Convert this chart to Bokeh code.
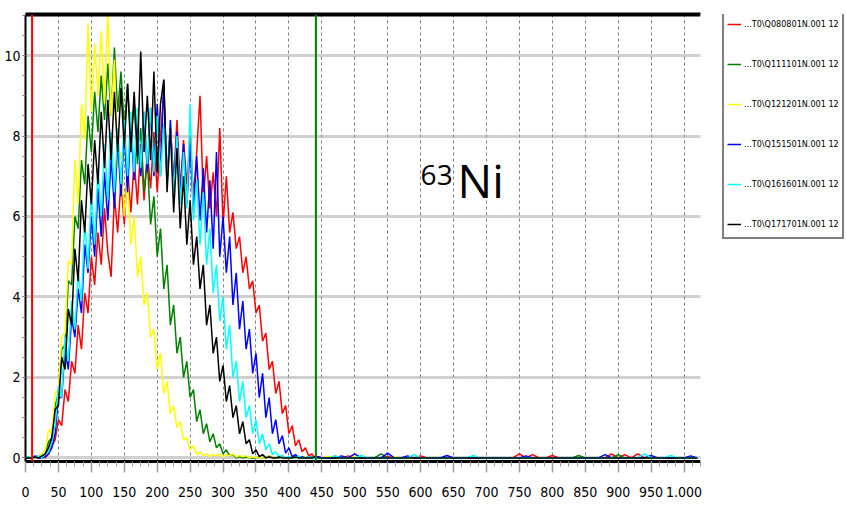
from bokeh.plotting import figure
from bokeh.models import (Range1d, FixedTicker, LinearAxis, Legend, LegendItem, Span, Label,
                          BoxAnnotation)
from bokeh.embed import file_html
from bokeh.resources import INLINE

# ---------------- data ----------------
channels_main = list(range(0, 451, 5))      # channel numbers 0..450
channels_tail = list(range(460, 1021, 10))  # channel numbers 460..1020

legend_labels = [
    "...T0\\Q080801N.001 12",
    "...T0\\Q111101N.001 12",
    "...T0\\Q121201N.001 12",
    "...T0\\Q151501N.001 12",
    "...T0\\Q161601N.001 12",
    "...T0\\Q171701N.001 12",
]
series_colors = ["#ff0000", "#008000", "#ffff00", "#0000ff", "#00ffff", "#000000"]

red_main = [0, 0, 0.05, 0, 0, 0.05, 0, 0.1, 0.3, 0.45,
            0.95, 0.8, 1.7, 1.4, 2.4, 2.1, 3.3, 2.7, 4.1, 3.6,
            5.0, 4.3, 5.6, 4.8, 6.2, 5.1, 4.5, 6.5, 5.6, 6.9,
            5.8, 7.2, 6.1, 7.4, 6.3, 7.8, 6.4, 7.6, 6.7, 8.1,
            6.6, 8.0, 9.1, 6.9, 8.2, 6.9, 8.4, 6.7, 7.9, 6.8,
            8.0, 6.5, 7.6, 9.0, 6.4, 7.5, 6.2, 7.1, 6.0, 8.2,
            5.8, 7.0, 5.6, 6.1, 5.2, 5.5, 4.6, 5.0, 4.2, 4.4,
            3.6, 3.8, 2.9, 3.1, 2.2, 2.4, 1.6, 1.9, 1.1, 1.3,
            0.6, 0.8, 0.3, 0.45, 0.15, 0.25, 0.05, 0.1, 0, 0.03,
            0]
green_main = [0, 0.03, 0, 0, 0.05, 0, 0.1, 0.4, 0.5, 1.3,
              1.6, 2.7, 2.8, 4.4, 4.3, 6.0, 5.7, 7.4, 6.8, 8.5,
              7.6, 9.1, 8.1, 9.5, 8.4, 9.8, 8.5, 10.2, 8.6, 9.6,
              8.2, 9.3, 7.9, 8.8, 7.3, 8.2, 6.6, 7.4, 5.8, 6.5,
              5.0, 5.7, 4.2, 4.8, 3.3, 3.8, 2.6, 3.0, 2.0, 2.4,
              1.5, 1.7, 0.9, 1.2, 0.6, 0.85, 0.4, 0.6, 0.25, 0.35,
              0.1, 0.2, 0.05, 0.08, 0, 0.03, 0, 0.02, 0, 0,
              0, 0.02, 0, 0, 0.05, 0, 0, 0, 0.02, 0,
              0, 0, 0.03, 0, 0, 0, 0, 0.02, 0, 0,
              0]
yellow_main = [0, 0, 0.05, 0, 0.03, 0.1, 0.2, 0.7, 0.6, 1.6,
               1.7, 3.0, 3.1, 4.9, 4.8, 7.4, 6.3, 8.8, 7.9, 10.8,
               8.6, 10.3, 9.0, 10.6, 8.8, 11.1, 8.5, 9.9, 7.2, 7.6,
               6.0, 6.9, 5.3, 6.0, 4.5, 5.0, 3.8, 4.1, 3.0, 3.2,
               2.2, 2.6, 1.6, 1.9, 1.1, 1.3, 0.75, 0.9, 0.45, 0.5,
               0.2, 0.3, 0.08, 0.15, 0.05, 0.1, 0.03, 0.08, 0.05, 0.1,
               0.03, 0.08, 0.05, 0.1, 0.02, 0.06, 0.03, 0.05, 0, 0.02,
               0, 0.03, 0, 0, 0.05, 0, 0, 0.02, 0, 0,
               0, 0, 0.02, 0, 0, 0.03, 0, 0, 0, 0,
               0]
blue_main = [0, 0, 0, 0.05, 0, 0, 0.03, 0.1, 0.25, 0.6,
             1.5, 1.5, 2.7, 2.2, 3.5, 3.0, 4.2, 3.6, 5.3, 4.6,
             6.0, 5.0, 6.7, 5.5, 7.1, 5.9, 7.5, 6.2, 7.9, 6.5,
             8.1, 6.6, 8.3, 6.9, 8.5, 7.0, 8.6, 7.1, 8.7, 7.0,
             8.8, 7.0, 9.4, 6.8, 8.4, 6.7, 8.1, 6.5, 7.8, 6.3,
             7.8, 6.1, 7.5, 5.9, 7.2, 5.6, 6.9, 5.2, 7.6, 5.0,
             6.0, 4.6, 5.5, 3.8, 4.6, 3.2, 3.9, 2.7, 3.2, 2.1,
             2.6, 1.5, 2.1, 1.0, 1.5, 0.6, 0.95, 0.35, 0.55, 0.12,
             0.25, 0.03, 0.08, 0, 0.03, 0, 0.02, 0, 0, 0.03,
             0]
cyan_main = [0, 0.03, 0, 0, 0.05, 0, 0.1, 0.15, 0.4, 0.8,
             1.8, 1.5, 3.0, 2.4, 3.9, 3.2, 4.6, 3.9, 5.9, 4.7,
             6.6, 5.3, 7.2, 6.0, 7.8, 6.4, 8.1, 6.6, 8.2, 6.8,
             8.4, 7.0, 8.6, 7.1, 8.7, 7.2, 8.6, 7.3, 8.7, 7.1,
             8.5, 7.0, 8.3, 6.8, 8.2, 6.6, 8.0, 6.3, 7.6, 6.2,
             8.8, 5.9, 6.9, 5.3, 6.6, 4.8, 5.7, 4.1, 4.8, 3.4,
             4.0, 2.7, 3.3, 2.0, 2.4, 1.4, 1.9, 1.0, 1.3, 0.6,
             0.95, 0.35, 0.6, 0.2, 0.35, 0.08, 0.15, 0.03, 0.06, 0,
             0.03, 0, 0, 0.04, 0, 0, 0.02, 0, 0, 0,
             0]
black_main = [0, 0, 0, 0.02, 0, 0.05, 0.1, 0.25, 0.5, 1.2,
              1.3, 2.5, 2.2, 3.7, 3.3, 5.2, 4.4, 6.4, 5.6, 7.3,
              6.3, 7.9, 6.8, 8.6, 7.2, 8.9, 7.4, 9.1, 7.6, 9.2,
              7.7, 9.3, 7.6, 9.1, 7.5, 10.1, 7.6, 9.0, 7.4, 9.6,
              7.1, 8.8, 9.4, 6.6, 8.2, 6.1, 7.7, 5.7, 7.0, 5.3,
              6.4, 4.8, 5.5, 4.2, 4.8, 3.3, 3.8, 2.6, 3.0, 1.9,
              2.3, 1.4, 1.8, 1.0, 1.3, 0.6, 0.9, 0.35, 0.45, 0.1,
              0.2, 0.03, 0.08, 0, 0.03, 0, 0, 0.02, 0, 0,
              0, 0, 0.02, 0, 0, 0, 0, 0, 0.03, 0,
              0]

red_tail = [0, 0, 0, 0.05, 0, 0, 0, 0, 0, 0.04,
            0, 0, 0, 0, 0.05, 0, 0, 0, 0, 0,
            0, 0, 0, 0, 0, 0, 0, 0, 0, 0.1,
            0, 0.08, 0, 0, 0.06, 0, 0, 0, 0, 0,
            0, 0, 0, 0.1, 0, 0.08, 0, 0.1, 0, 0,
            0, 0, 0, 0, 0, 0, 0]
green_tail = [0, 0.04, 0, 0, 0, 0, 0, 0, 0.1, 0,
              0, 0, 0, 0, 0, 0, 0, 0, 0, 0,
              0, 0, 0, 0, 0, 0, 0, 0, 0, 0,
              0, 0, 0, 0, 0, 0, 0, 0, 0.06, 0,
              0, 0, 0, 0, 0.08, 0, 0, 0, 0, 0,
              0, 0, 0, 0, 0, 0, 0]
yellow_tail = [0.04, 0, 0, 0, 0.05, 0, 0, 0, 0, 0,
               0.03, 0, 0, 0, 0, 0, 0, 0, 0, 0,
               0, 0, 0, 0, 0, 0, 0, 0, 0, 0,
               0, 0, 0, 0, 0, 0, 0, 0, 0, 0,
               0, 0, 0, 0, 0, 0, 0, 0, 0, 0,
               0, 0, 0, 0, 0, 0, 0]
blue_tail = [0, 0, 0.05, 0, 0.1, 0, 0, 0, 0, 0.12,
             0, 0, 0.05, 0, 0, 0, 0, 0, 0.06, 0,
             0, 0, 0, 0, 0, 0, 0, 0, 0, 0,
             0.05, 0, 0, 0, 0, 0, 0, 0, 0, 0,
             0, 0, 0.08, 0, 0, 0, 0, 0, 0, 0.06,
             0, 0, 0, 0, 0, 0.05, 0]
cyan_tail = [0, 0.05, 0, 0, 0, 0.06, 0, 0, 0, 0,
             0, 0, 0, 0.08, 0, 0, 0, 0, 0, 0,
             0, 0, 0.06, 0, 0, 0, 0, 0, 0, 0,
             0, 0, 0, 0, 0, 0, 0, 0, 0, 0,
             0, 0, 0, 0, 0, 0, 0, 0, 0.1, 0,
             0, 0, 0.06, 0, 0, 0, 0]
black_tail = [0, 0, 0, 0, 0, 0, 0, 0, 0, 0,
              0, 0, 0, 0, 0, 0, 0, 0, 0, 0,
              0, 0, 0, 0, 0, 0, 0, 0, 0, 0,
              0, 0, 0, 0, 0, 0, 0, 0, 0, 0,
              0, 0, 0, 0, 0, 0, 0, 0, 0, 0,
              0, 0, 0, 0, 0, 0, 0]

roi_bounds = [10, 441]
x_major_ticks = [0, 50, 100, 150, 200, 250, 300, 350, 400, 450, 500,
                 550, 600, 650, 700, 750, 800, 850, 900, 950, 1000]
x_tick_labels = ["0", "50", "100", "150", "200", "250", "300", "350", "400", "450", "500",
                 "550", "600", "650", "700", "750", "800", "850", "900", "950", "1.000"]
y_major_ticks = [0, 2, 4, 6, 8, 10]
y_tick_labels = ["0", "2", "4", "6", "8", "10"]
isotope_mass = "63"
isotope_symbol = "Ni"

# ---------------- figure ----------------
NARROW = "DejaVu Sans Condensed"
X_END = 1025          # end of the channel axis
X_VIEW_END = 1246.7   # frame extends under the legend area

p = figure(width=846, height=509, output_backend="svg", toolbar_location=None,
           x_range=Range1d(0, X_VIEW_END), y_range=Range1d(-0.09, 11.02),
           min_border_left=25, min_border_right=0, min_border_top=14, min_border_bottom=48,
           background_fill_color="white", border_fill_color="white")
p.outline_line_color = None

series = [
    (red_main, red_tail), (green_main, green_tail), (yellow_main, yellow_tail),
    (blue_main, blue_tail), (cyan_main, cyan_tail), (black_main, black_tail),
]
xs = channels_main + channels_tail
renderers = []
for (main, tail), col in zip(series, series_colors):
    r = p.line(xs, main + tail, line_color=col, line_width=1.5)
    renderers.append(r)

# axes
xminor = [12.5 * i for i in range(83)]
p.xaxis.ticker = FixedTicker(ticks=x_major_ticks, minor_ticks=xminor)
p.xaxis.bounds = (0, X_END)
p.xaxis.major_label_overrides = {t: l for t, l in zip(x_major_ticks, x_tick_labels)}
p.xaxis.axis_line_color = "black"
p.xaxis.axis_line_width = 3
p.xaxis.major_tick_out = 11
p.xaxis.major_tick_in = 0
p.xaxis.minor_tick_out = 5
p.xaxis.minor_tick_in = 0
p.xaxis.major_tick_line_color = "#a0a0a0"
p.xaxis.major_tick_line_width = 1.5
p.xaxis.minor_tick_line_color = "#a0a0a0"
p.xaxis.major_label_text_font = NARROW
p.xaxis.major_label_text_font_size = "14px"
p.xaxis.major_label_text_color = "black"
p.xaxis.major_label_standoff = 14

yminor = [0.5 * i for i in range(23)]
p.yaxis.ticker = FixedTicker(ticks=y_major_ticks, minor_ticks=yminor)
p.yaxis.major_label_overrides = {t: l for t, l in zip(y_major_ticks, y_tick_labels)}
p.yaxis.axis_line_color = "black"
p.yaxis.axis_line_width = 2
p.yaxis.major_tick_out = 3
p.yaxis.major_tick_in = 0
p.yaxis.minor_tick_out = 3
p.yaxis.minor_tick_in = 0
p.yaxis.major_tick_line_color = "#808080"
p.yaxis.minor_tick_line_color = "#808080"
p.yaxis.major_label_text_font = NARROW
p.yaxis.major_label_text_font_size = "14px"
p.yaxis.major_label_text_color = "black"
p.yaxis.major_label_standoff = 2

top_axis = LinearAxis(ticker=FixedTicker(ticks=[]), bounds=(0, X_END),
                      axis_line_color="black", axis_line_width=4,
                      major_tick_line_color=None, minor_tick_line_color=None,
                      major_label_text_font_size="0px", major_label_standoff=0)
p.add_layout(top_axis, "above")

# grids
p.xgrid.grid_line_color = "#808080"
p.xgrid.grid_line_dash = "3 3"
p.xgrid.grid_line_width = 1
p.ygrid.grid_line_color = "#a0a0a0"
p.ygrid.grid_line_dash = "1 1"
p.ygrid.grid_line_width = 3

# ROI markers
p.add_layout(Span(location=roi_bounds[0], dimension="height", line_color="#ff0000", line_width=2))
p.add_layout(Span(location=roi_bounds[1], dimension="height", line_color="#008000", line_width=2))

# isotope label
p.add_layout(Label(x=600, y=7.04, text=isotope_mass, text_font="Open Sans",
                   text_font_size="28px", text_color="black", text_baseline="alphabetic"))
p.add_layout(Label(x=656, y=6.90, text=isotope_symbol, text_font="Open Sans",
                   text_font_size="46px", text_color="black", text_baseline="alphabetic"))

# blank the region right of the channel axis (legend area)
p.add_layout(BoxAnnotation(left=X_END, fill_color="white", fill_alpha=1,
                           line_color=None, level="overlay"))

# legend just right of the channel axis
legend = Legend(items=[LegendItem(label=l, renderers=[r]) for l, r in zip(legend_labels, renderers)],
                location=(697, 222), margin=0, padding=3, spacing=20,
                glyph_width=14, glyph_height=20, label_height=20, label_standoff=3,
                label_text_font=NARROW, label_text_font_size="9px", label_text_color="black",
                border_line_color="black", border_line_width=2,
                background_fill_color="white", background_fill_alpha=1, level="overlay")
p.add_layout(legend)

open("out.html", "w").write(file_html(p, INLINE))
